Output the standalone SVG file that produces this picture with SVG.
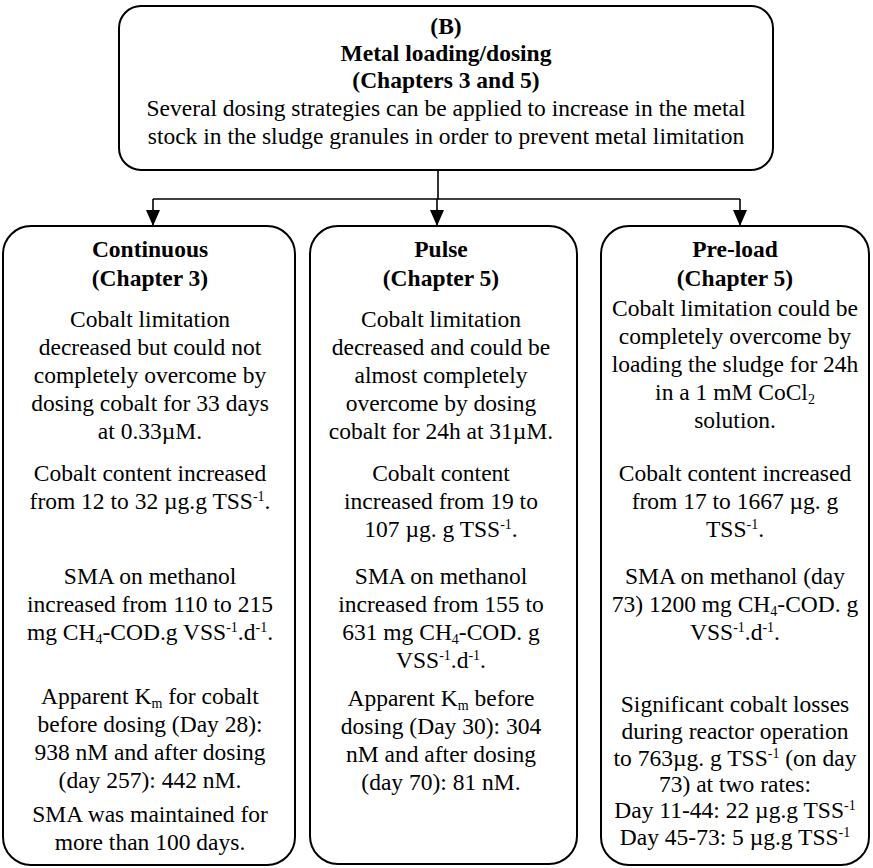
<svg xmlns="http://www.w3.org/2000/svg" width="873" height="868" viewBox="0 0 873 868">
  <style>
    .box { fill: #fff; stroke: #000; stroke-width: 2; }
    .conn { fill: none; stroke: #000; stroke-width: 1.6; }
    text { font-family: "Liberation Serif", "Times New Roman", serif; font-size: 23.5px; fill: #000; text-anchor: middle; }
    .b { font-weight: bold; }
    .sup { font-size: 14px; }
    .sub { font-size: 14px; }
  </style>
  <defs>
    <marker id="arrow" viewBox="0 0 16 14" refX="16" refY="7" markerWidth="16" markerHeight="14" markerUnits="userSpaceOnUse" orient="auto">
      <path d="M0,0 L16,7 L0,14 z" fill="#000"/>
    </marker>
  </defs>
  <rect width="873" height="868" fill="#fff"/>

  <!-- top node: dosing strategies overview -->
  <g id="node-dosing">
    <rect class="box" x="119" y="6" width="654" height="164" rx="22"/>
    <text x="446" y="34" class="b">(B)</text>
    <text x="446" y="61" class="b">Metal loading/dosing</text>
    <text x="446" y="88" class="b">(Chapters 3 and 5)</text>
    <text x="446" y="116">Several dosing strategies can be applied to increase in the metal</text>
    <text x="446" y="144">stock in the sludge granules in order to prevent metal limitation</text>
  </g>

  <!-- connectors -->
  <g id="connectors">
    <path class="conn" d="M438,170 V199 M153,199 H740"/>
    <line class="conn" x1="153" y1="199" x2="153" y2="226" marker-end="url(#arrow)"/>
    <line class="conn" x1="437" y1="199" x2="437" y2="226" marker-end="url(#arrow)"/>
    <line class="conn" x1="740" y1="199" x2="740" y2="226" marker-end="url(#arrow)"/>
  </g>

  <!-- continuous dosing -->
  <g id="node-continuous">
    <rect class="box" x="3" y="226" width="292" height="639" rx="28"/>
    <text x="150" y="257" class="b">Continuous</text>
    <text x="150" y="286" class="b">(Chapter 3)</text>
    <text x="150" y="327">Cobalt limitation</text>
    <text x="150" y="355">decreased but could not</text>
    <text x="150" y="383">completely overcome by</text>
    <text x="150" y="411">dosing cobalt for 33 days</text>
    <text x="150" y="439">at 0.33µM.</text>
    <text x="150" y="481">Cobalt content increased</text>
    <text x="150" y="509">from 12 to 32 µg.g TSS<tspan class="sup" dy="-8">-1</tspan><tspan dy="8">.</tspan></text>
    <text x="150" y="584">SMA on methanol</text>
    <text x="150" y="612">increased from 110 to 215</text>
    <text x="150" y="640">mg CH<tspan class="sub" dy="4">4</tspan><tspan dy="-4">-COD.g VSS</tspan><tspan class="sup" dy="-8">-1</tspan><tspan dy="8">.d</tspan><tspan class="sup" dy="-8">-1</tspan><tspan dy="8">.</tspan></text>
    <text x="150" y="704">Apparent K<tspan class="sub" dy="4">m</tspan><tspan dy="-4"> for cobalt</tspan></text>
    <text x="150" y="732">before dosing (Day 28):</text>
    <text x="150" y="760">938 nM and after dosing</text>
    <text x="150" y="788">(day 257): 442 nM.</text>
    <text x="150" y="822">SMA was maintained for</text>
    <text x="150" y="850">more than 100 days.</text>
  </g>

  <!-- pulse dosing -->
  <g id="node-pulse">
    <rect class="box" x="310" y="226" width="267" height="638" rx="28"/>
    <text x="441" y="257" class="b">Pulse</text>
    <text x="441" y="286" class="b">(Chapter 5)</text>
    <text x="441" y="327">Cobalt limitation</text>
    <text x="441" y="355">decreased and could be</text>
    <text x="441" y="383">almost completely</text>
    <text x="441" y="411">overcome by dosing</text>
    <text x="441" y="439">cobalt for 24h at 31µM.</text>
    <text x="441" y="481">Cobalt content</text>
    <text x="441" y="509">increased from 19 to</text>
    <text x="441" y="537">107 µg. g TSS<tspan class="sup" dy="-8">-1</tspan><tspan dy="8">.</tspan></text>
    <text x="441" y="584">SMA on methanol</text>
    <text x="441" y="612">increased from 155 to</text>
    <text x="441" y="640">631 mg CH<tspan class="sub" dy="4">4</tspan><tspan dy="-4">-COD. g</tspan></text>
    <text x="441" y="668">VSS<tspan class="sup" dy="-8">-1</tspan><tspan dy="8">.d</tspan><tspan class="sup" dy="-8">-1</tspan><tspan dy="8">.</tspan></text>
    <text x="441" y="706">Apparent K<tspan class="sub" dy="4">m</tspan><tspan dy="-4"> before</tspan></text>
    <text x="441" y="734">dosing (Day 30): 304</text>
    <text x="441" y="762">nM and after dosing</text>
    <text x="441" y="790">(day 70): 81 nM.</text>
  </g>

  <!-- pre-load dosing -->
  <g id="node-preload">
    <rect class="box" x="601" y="226" width="268" height="639" rx="28"/>
    <text x="735" y="257" class="b">Pre-load</text>
    <text x="735" y="286" class="b">(Chapter 5)</text>
    <text x="735" y="316">Cobalt limitation could be</text>
    <text x="735" y="344">completely overcome by</text>
    <text x="735" y="372">loading the sludge for 24h</text>
    <text x="735" y="400">in a 1 mM CoCl<tspan class="sub" dy="4">2</tspan></text>
    <text x="735" y="428">solution.</text>
    <text x="735" y="481">Cobalt content increased</text>
    <text x="735" y="509">from 17 to 1667 µg. g</text>
    <text x="735" y="537">TSS<tspan class="sup" dy="-8">-1</tspan><tspan dy="8">.</tspan></text>
    <text x="735" y="584">SMA on methanol (day</text>
    <text x="735" y="612">73) 1200 mg CH<tspan class="sub" dy="4">4</tspan><tspan dy="-4">-COD. g</tspan></text>
    <text x="735" y="640">VSS<tspan class="sup" dy="-8">-1</tspan><tspan dy="8">.d</tspan><tspan class="sup" dy="-8">-1</tspan><tspan dy="8">.</tspan></text>
    <text x="735" y="712">Significant cobalt losses</text>
    <text x="735" y="739">during reactor operation</text>
    <text x="735" y="766">to 763µg. g TSS<tspan class="sup" dy="-8">-1</tspan><tspan dy="8"> (on day</tspan></text>
    <text x="735" y="792">73) at two rates:</text>
    <text x="735" y="818">Day 11-44: 22 µg.g TSS<tspan class="sup" dy="-8">-1</tspan></text>
    <text x="735" y="845">Day 45-73: 5 µg.g TSS<tspan class="sup" dy="-8">-1</tspan></text>
  </g>
</svg>
